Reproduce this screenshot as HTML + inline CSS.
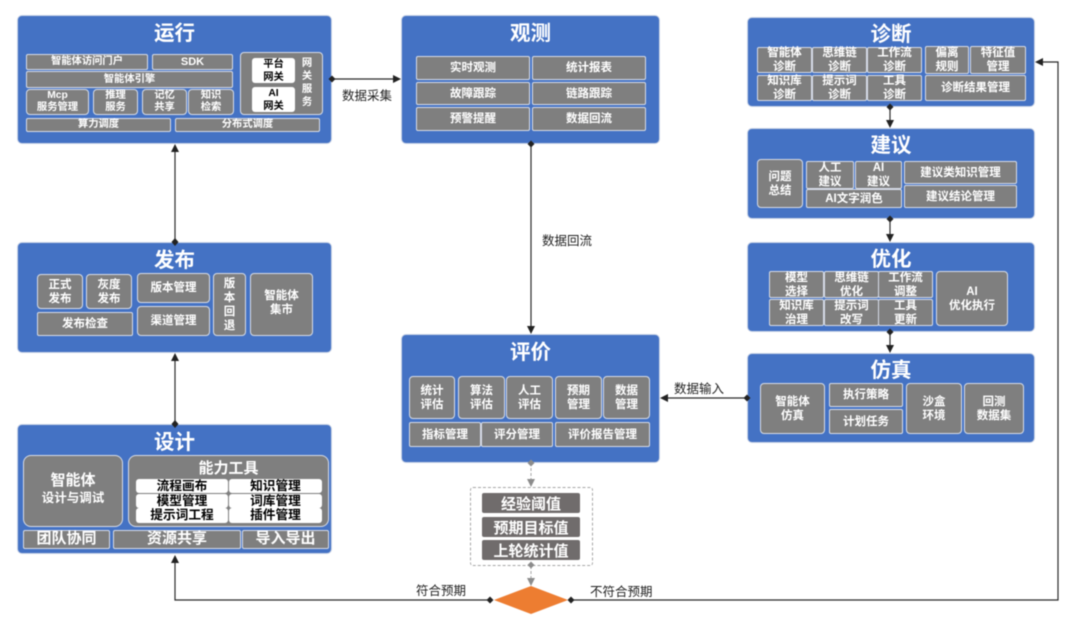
<!DOCTYPE html>
<html lang="zh"><head><meta charset="utf-8"><style>
html,body{margin:0;padding:0;background:#fff}
#c{position:relative;width:1080px;height:621px;overflow:hidden;font-family:"Liberation Sans","Noto Sans CJK SC",sans-serif;filter:blur(.45px)}
.p{position:absolute;background:#4472c4;border:1px solid #c9d3e6;border-radius:5px;box-sizing:border-box}
.t{position:absolute;color:#fff;font-size:20.500px;font-weight:700;text-align:center;line-height:26px;height:26px}
.b{position:absolute;box-sizing:border-box;background:#7f7f7f;border:1px solid #d6dce8;border-radius:2px;color:#fff;font-size:11.500px;font-weight:700;line-height:14px;display:flex;align-items:center;justify-content:center;text-align:center;white-space:nowrap}
.s{font-size:10.300px;line-height:12px}
.r{border-radius:4px}
.w{position:absolute;box-sizing:border-box;background:#fff;border-radius:3px;color:#000;font-size:12.700px;font-weight:700;line-height:13px;display:flex;align-items:center;justify-content:center;text-align:center;white-space:nowrap}
.d{position:absolute;box-sizing:border-box;background:#706c6c;border-radius:2px;color:#fff;font-size:15px;font-weight:700;display:flex;align-items:center;justify-content:center;white-space:nowrap}
.l{position:absolute;color:#222;font-size:12.500px;line-height:14px;white-space:nowrap}
svg{position:absolute;left:0;top:0}
</style></head><body><div id="c">

<!-- 运行 -->
<div class="p" style="left:17px;top:15px;width:315px;height:129px"></div>
<div class="t" style="left:17px;top:21px;width:315px">运行</div>
<div class="b s" style="left:26px;top:54px;width:122px;height:16px">智能体访问门户</div>
<div class="b s" style="left:152px;top:54px;width:81px;height:16px;font-size:11px">SDK</div>
<div class="b s" style="left:26px;top:71px;width:207px;height:17px">智能体引擎</div>
<div class="b r s" style="left:26px;top:89px;width:63px;height:26px">Mcp<br>服务管理</div>
<div class="b r s" style="left:93px;top:89px;width:45px;height:26px">推理<br>服务</div>
<div class="b r s" style="left:142px;top:89px;width:45px;height:26px">记忆<br>共享</div>
<div class="b r s" style="left:188px;top:89px;width:46px;height:26px">知识<br>检索</div>
<div class="b s" style="left:26px;top:118px;width:145px;height:14px">算力调度</div>
<div class="b s" style="left:175px;top:118px;width:145px;height:14px">分布式调度</div>
<div class="b r" style="left:240px;top:52px;width:83px;height:63px"></div>
<div class="w" style="left:252px;top:58px;width:43px;height:25px;font-size:10.300px">平台<br>网关</div>
<div class="w" style="left:252px;top:87px;width:43px;height:25px;font-size:10.300px">AI<br>网关</div>
<div class="b s" style="left:298px;top:57px;width:18px;height:52px;background:none;border:0;line-height:13px">网<br>关<br>服<br>务</div>

<!-- 发布 -->
<div class="p" style="left:17px;top:242px;width:315px;height:111px"></div>
<div class="t" style="left:17px;top:248px;width:315px">发布</div>
<div class="b r" style="left:37px;top:274px;width:46px;height:35px">正式<br>发布</div>
<div class="b r" style="left:86px;top:274px;width:46px;height:35px">灰度<br>发布</div>
<div class="b" style="left:37px;top:312px;width:96px;height:24px">发布检查</div>
<div class="b r" style="left:137px;top:273px;width:73px;height:30px">版本管理</div>
<div class="b r" style="left:137px;top:306px;width:73px;height:30px">渠道管理</div>
<div class="b r" style="left:213px;top:273px;width:33px;height:63px">版<br>本<br>回<br>退</div>
<div class="b r" style="left:250px;top:273px;width:63px;height:63px;padding-bottom:4px">智能体<br>集市</div>

<!-- 设计 -->
<div class="p" style="left:17px;top:424px;width:315px;height:130px"></div>
<div class="t" style="left:17px;top:430px;width:315px">设计</div>
<div class="b" style="left:23px;top:455px;width:100px;height:72px;border-radius:8px;font-size:12.500px;line-height:17px;padding-bottom:3px"><span><span style="font-size:15px">智能体</span><br>设计与调试</span></div>
<div class="b" style="left:128px;top:455px;width:201px;height:72px;border-radius:8px"></div>
<div style="position:absolute;left:128px;top:460px;width:201px;text-align:center;color:#fff;font-size:15px;font-weight:700;line-height:18px">能力工具</div>
<div class="w" style="left:136px;top:479px;width:92px;height:14px">流程画布</div>
<div class="w" style="left:229px;top:479px;width:93px;height:14px">知识管理</div>
<div class="w" style="left:136px;top:494px;width:92px;height:14px">模型管理</div>
<div class="w" style="left:229px;top:494px;width:93px;height:14px">词库管理</div>
<div class="w" style="left:136px;top:508px;width:92px;height:15px">提示词工程</div>
<div class="w" style="left:229px;top:508px;width:93px;height:15px">插件管理</div>
<div class="b" style="left:23px;top:530px;width:87px;height:19px;font-size:15px;padding-bottom:2px">团队协同</div>
<div class="b" style="left:113px;top:530px;width:128px;height:19px;font-size:15px;padding-bottom:2px">资源共享</div>
<div class="b" style="left:242px;top:530px;width:87px;height:19px;font-size:15px;padding-bottom:2px">导入导出</div>

<!-- 观测 -->
<div class="p" style="left:401px;top:15px;width:259px;height:129px"></div>
<div class="t" style="left:401px;top:21px;width:259px">观测</div>
<div class="b" style="left:416px;top:56px;width:114px;height:24px">实时观测</div>
<div class="b" style="left:532px;top:56px;width:114px;height:24px">统计报表</div>
<div class="b" style="left:416px;top:82px;width:114px;height:23px">故障跟踪</div>
<div class="b" style="left:532px;top:82px;width:114px;height:23px">链路跟踪</div>
<div class="b" style="left:416px;top:107px;width:114px;height:24px">预警提醒</div>
<div class="b" style="left:532px;top:107px;width:114px;height:24px">数据回流</div>

<!-- 评价 -->
<div class="p" style="left:401px;top:334px;width:259px;height:129px"></div>
<div class="t" style="left:401px;top:340px;width:259px">评价</div>
<div class="b r" style="left:409px;top:376px;width:46px;height:43px">统计<br>评估</div>
<div class="b r" style="left:458px;top:376px;width:47px;height:43px">算法<br>评估</div>
<div class="b r" style="left:506px;top:376px;width:47px;height:43px">人工<br>评估</div>
<div class="b r" style="left:555px;top:376px;width:47px;height:43px">预期<br>管理</div>
<div class="b r" style="left:603px;top:376px;width:47px;height:43px">数据<br>管理</div>
<div class="b" style="left:409px;top:422px;width:72px;height:25px">指标管理</div>
<div class="b" style="left:481px;top:422px;width:72px;height:25px">评分管理</div>
<div class="b" style="left:555px;top:422px;width:95px;height:25px">评价报告管理</div>

<!-- 阈值 -->
<div style="position:absolute;left:470px;top:487px;width:123px;height:79px;box-sizing:border-box;border:1px dashed #a6a6a6;border-radius:3px"></div>
<div class="d" style="left:482px;top:493px;width:98px;height:20px">经验阈值</div>
<div class="d" style="left:482px;top:517px;width:98px;height:20px">预期目标值</div>
<div class="d" style="left:482px;top:540px;width:98px;height:20px">上轮统计值</div>

<!-- 诊断 -->
<div class="p" style="left:747px;top:17px;width:288px;height:90px"></div>
<div class="t" style="left:747px;top:22px;width:288px">诊断</div>
<div class="b" style="left:757px;top:47px;width:55px;height:26px">智能体<br>诊断</div>
<div class="b" style="left:812px;top:47px;width:55px;height:26px">思维链<br>诊断</div>
<div class="b" style="left:867px;top:47px;width:55px;height:26px">工作流<br>诊断</div>
<div class="b" style="left:757px;top:75px;width:55px;height:26px">知识库<br>诊断</div>
<div class="b" style="left:812px;top:75px;width:55px;height:26px">提示词<br>诊断</div>
<div class="b" style="left:867px;top:75px;width:55px;height:26px">工具<br>诊断</div>
<div class="b" style="left:925px;top:46px;width:44px;height:28px">偏离<br>规则</div>
<div class="b" style="left:970px;top:46px;width:56px;height:28px">特征值<br>管理</div>
<div class="b" style="left:925px;top:75px;width:101px;height:26px">诊断结果管理</div>

<!-- 建议 -->
<div class="p" style="left:747px;top:128px;width:288px;height:91px"></div>
<div class="t" style="left:747px;top:133px;width:288px">建议</div>
<div class="b r" style="left:757px;top:159px;width:46px;height:49px">问题<br>总结</div>
<div class="b" style="left:806px;top:161px;width:48px;height:28px">人工<br>建议</div>
<div class="b" style="left:855px;top:161px;width:47px;height:28px">AI<br>建议</div>
<div class="b" style="left:806px;top:189px;width:96px;height:19px">AI文字润色</div>
<div class="b" style="left:904px;top:161px;width:113px;height:23px">建议类知识管理</div>
<div class="b" style="left:904px;top:185px;width:113px;height:23px">建议结论管理</div>

<!-- 优化 -->
<div class="p" style="left:747px;top:242px;width:288px;height:90px"></div>
<div class="t" style="left:747px;top:247px;width:288px">优化</div>
<div class="b" style="left:769px;top:271px;width:55px;height:27px">模型<br>选择</div>
<div class="b" style="left:824px;top:271px;width:55px;height:27px">思维链<br>优化</div>
<div class="b" style="left:878px;top:271px;width:55px;height:27px">工作流<br>调整</div>
<div class="b" style="left:769px;top:299px;width:55px;height:27px">知识库<br>治理</div>
<div class="b" style="left:824px;top:299px;width:55px;height:27px">提示词<br>改写</div>
<div class="b" style="left:878px;top:299px;width:55px;height:27px">工具<br>更新</div>
<div class="b r" style="left:936px;top:271px;width:72px;height:55px">AI<br>优化执行</div>

<!-- 仿真 -->
<div class="p" style="left:747px;top:353px;width:288px;height:90px"></div>
<div class="t" style="left:747px;top:358px;width:288px">仿真</div>
<div class="b r" style="left:760px;top:383px;width:65px;height:51px">智能体<br>仿真</div>
<div class="b" style="left:829px;top:383px;width:74px;height:24px">执行策略</div>
<div class="b" style="left:829px;top:409px;width:74px;height:25px">计划任务</div>
<div class="b r" style="left:906px;top:383px;width:56px;height:51px">沙盒<br>环境</div>
<div class="b r" style="left:964px;top:383px;width:60px;height:51px">回测<br>数据集</div>

<!-- connectors -->
<svg width="1080" height="621" viewBox="0 0 1080 621">
<g fill="none" stroke="#2b2b2b" stroke-width="1.200">
<path d="M175 242V150"/><path d="M175 424V359"/>
<path d="M332 79H395"/><path d="M531 144V328"/><path d="M747 398H666"/>
<path d="M890 107V122"/><path d="M890 219V236"/><path d="M890 332V347"/>
<path d="M489 600H175V561"/><path d="M573 600H1058V62H1041"/>
</g>
<g fill="none" stroke="#a6a6a6" stroke-width="1" stroke-dasharray="3 2">
<path d="M531 463V480"/><path d="M531 566V580"/>
</g>
<g fill="#222">
<path d="M175 144l-4 8h8z"/><path d="M175 353l-4 8h8z"/><path d="M175 555l-4 8h8z"/>
<path d="M401 79l-8-4v8z"/><path d="M531 334l-4-8h8z"/><path d="M660 398l8-4v8z"/>
<path d="M890 128l-4-8h8z"/><path d="M890 242l-4-8h8z"/><path d="M890 353l-4-8h8z"/>
<path d="M1035 62l8-4v8z"/>
<path d="M175 238l3.500 4-3.500 4-3.500-4z"/><path d="M175 420l3.500 4-3.500 4-3.500-4z"/>
<path d="M332 75.500l3.500 3.500-3.500 3.500-3.500-3.500z"/><path d="M531 140.500l3.500 3.500-3.500 3.500-3.500-3.500z"/>
<path d="M747 394.500l3.500 3.500-3.500 3.500-3.500-3.500z"/>
<path d="M890 103.500l3.500 3.500-3.500 3.500-3.500-3.500z"/><path d="M890 215.500l3.500 3.500-3.500 3.500-3.500-3.500z"/><path d="M890 328.500l3.500 3.500-3.500 3.500-3.500-3.500z"/>
<path d="M490 596.500l3.500 3.500-3.500 3.500-3.500-3.500z"/><path d="M571 596.500l3.500 3.500-3.500 3.500-3.500-3.500z"/>
</g>
<g fill="#8c8c8c">
<path d="M531 459.500l3.500 3.500-3.500 3.500-3.500-3.500z"/><path d="M531 561.500l3.500 3.500-3.500 3.500-3.500-3.500z"/>
<path d="M531 487l-4-8h8z"/><path d="M531 586l-4-8h8z"/>
</g>
<path d="M531 586L568 600L531 614L494 600Z" fill="#ed7d31"/>
</svg>

<div class="l" style="left:342px;top:89px">数据采集</div>
<div class="l" style="left:542px;top:234px">数据回流</div>
<div class="l" style="left:674px;top:382px">数据输入</div>
<div class="l" style="left:416px;top:584px">符合预期</div>
<div class="l" style="left:590px;top:585px">不符合预期</div>
</div></body></html>
